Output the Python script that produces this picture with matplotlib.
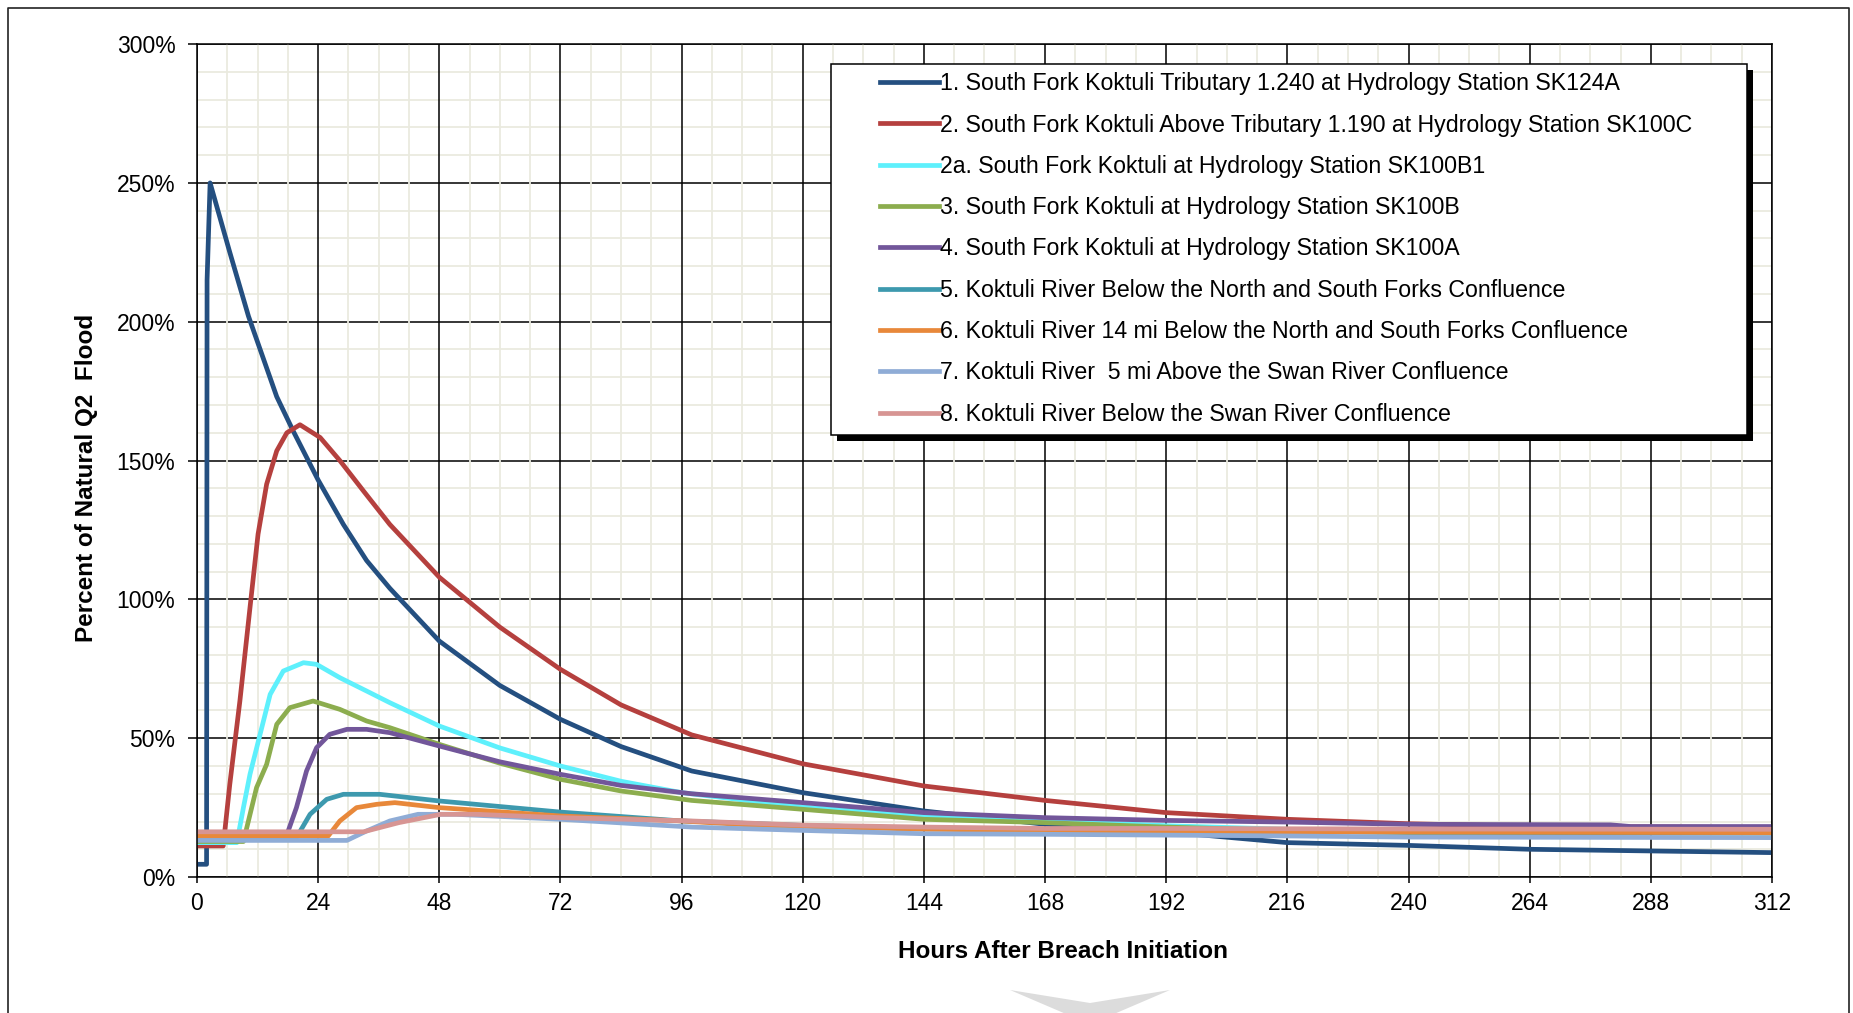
import matplotlib
matplotlib.use("Agg")
import matplotlib.pyplot as plt
from matplotlib.patches import Rectangle, Polygon
from matplotlib.lines import Line2D
from matplotlib.ticker import FuncFormatter, MultipleLocator

plt.rcParams["font.family"] = ["Liberation Sans", "DejaVu Sans"]

# hours after breach / percent of natural Q2 flood
h1 = [0, 1.9, 2.0, 2.6, 6.5, 10.2, 15.8, 19.1, 24, 29, 33.6, 38.2, 48, 60, 72, 84, 98, 120, 144, 168, 192, 216, 240, 264, 288, 312]
p1 = [4.6, 4.6, 215, 250, 225, 202, 173, 160.5, 143, 127, 114, 104, 85, 69, 56.8, 47, 38.2, 30.4, 23.8, 19, 16.3, 12.4, 11.4, 10, 9.4, 8.8]

h2 = [0, 5.2, 6.5, 8.5, 10.5, 12.1, 13.8, 15.8, 17.8, 20.4, 24.4, 28.3, 33, 38.2, 48, 60, 72, 84, 98, 120, 144, 168, 192, 216, 240, 264, 312]
p2 = [11.2, 11.2, 33.4, 63.4, 97, 123.5, 141.5, 153.5, 160, 162.9, 158.3, 150, 139, 127, 108, 90, 74.8, 62, 51.2, 40.8, 32.8, 27.6, 23.2, 20.8, 19.2, 18.3, 17.8]

h2a = [0, 7.9, 9.2, 10.5, 12.5, 14.5, 17.1, 21.1, 23.7, 28.3, 33.6, 38.2, 48, 60, 72, 84, 96, 120, 144, 168, 192, 216, 240, 312]
p2a = [12.4, 12.4, 25, 37, 51.4, 65.8, 74.2, 77.2, 76.6, 71.8, 67, 62.8, 54.4, 46.5, 40, 34.5, 30.4, 25.2, 22, 20.4, 18.5, 17.2, 16.3, 16]

h3 = [0, 9.2, 11.8, 13.8, 15.8, 18.4, 23, 28.3, 33.6, 38.2, 48, 60, 72, 84, 98, 120, 144, 168, 192, 216, 240, 312]
p3 = [12.8, 12.8, 32.2, 40.6, 55, 61, 63.4, 60.4, 56.2, 53.8, 47.8, 41, 35.2, 31, 27.6, 24.4, 20.8, 19.6, 18, 16.8, 16, 15.8]

h4 = [0, 17.8, 19.7, 21.7, 23.7, 26.3, 29.7, 33.6, 38.2, 48, 60, 72, 84, 98, 120, 144, 168, 192, 216, 240, 280, 284, 312]
p4 = [15.2, 15.2, 25, 38.2, 46.6, 51.4, 53.2, 53.2, 52, 47.2, 41.5, 37, 33, 30, 26.8, 23.2, 21.4, 20.4, 19.8, 19, 18.8, 18.2, 18.2]

h5 = [0, 19.7, 22.4, 25.7, 29, 36.2, 48, 72, 96, 120, 144, 168, 192, 240, 312]
p5 = [14.2, 14.2, 22.6, 28, 29.8, 29.8, 27.4, 23.4, 20.2, 18.6, 17.6, 17, 16.6, 16.2, 16]

h6 = [0, 26, 28.3, 31.6, 35.6, 39.2, 48, 72, 96, 110, 144, 168, 192, 216, 240, 312]
p6 = [14.8, 14.8, 20.2, 25, 26.2, 26.8, 25, 22, 20.2, 18.7, 17.2, 16.8, 16.6, 16.3, 16.2, 16]

h7 = [0, 29.7, 33.6, 38.2, 43.8, 51.3, 72, 98, 120, 144, 168, 192, 216, 240, 312]
p7 = [13.2, 13.2, 16.6, 20.2, 22.6, 22.6, 20.8, 18, 16.8, 15.6, 15.4, 15.1, 14.8, 14.4, 14.2]

h8 = [0, 33, 40, 48.3, 55.2, 72, 98, 120, 144, 168, 192, 216, 240, 312]
p8 = [16.3, 16.3, 19.6, 22.6, 22.6, 21.4, 20.2, 18.7, 18, 17.5, 17.5, 17.4, 17.3, 17.2]

labels = [
    "1. South Fork Koktuli Tributary 1.240 at Hydrology Station SK124A",
    "2. South Fork Koktuli Above Tributary 1.190 at Hydrology Station SK100C",
    "2a. South Fork Koktuli at Hydrology Station SK100B1",
    "3. South Fork Koktuli at Hydrology Station SK100B",
    "4. South Fork Koktuli at Hydrology Station SK100A",
    "5. Koktuli River Below the North and South Forks Confluence",
    "6. Koktuli River 14 mi Below the North and South Forks Confluence",
    "7. Koktuli River  5 mi Above the Swan River Confluence",
    "8. Koktuli River Below the Swan River Confluence",
]
colors = ["#244f80", "#b5403e", "#5ef0fc", "#8cad4e", "#72569a",
          "#3d99ae", "#e8883a", "#8facd6", "#d79593"]
series = [(h1, p1), (h2, p2), (h2a, p2a), (h3, p3), (h4, p4),
          (h5, p5), (h6, p6), (h7, p7), (h8, p8)]

fig = plt.figure(figsize=(18.53, 10.13), dpi=100)
ax = fig.add_axes([0.1063, 0.1342, 0.8500, 0.8223])

# grid drawn by hand so the layering matches the original
minor_c = "#eaeadf"
for v in range(0, 301, 10):
    if v % 50:
        ax.axhline(v, color=minor_c, lw=1.3, zorder=0.5)
for v in range(0, 301, 50):
    ax.axhline(v, color="black", lw=1.1, zorder=0.6)
for v in range(0, 313, 6):
    if v % 24:
        ax.axvline(v, color=minor_c, lw=1.3, zorder=0.7)
for v in range(0, 313, 24):
    ax.axvline(v, color="black", lw=1.1, zorder=0.8)

for (hx, py), c, lab in zip(series, colors, labels):
    ax.plot(hx, py, color=c, lw=3.4, label=lab, solid_joinstyle="round", zorder=2)

ax.set_xlim(0, 312)
ax.set_ylim(0, 300)
ax.xaxis.set_major_locator(MultipleLocator(24))
ax.yaxis.set_major_locator(MultipleLocator(50))
ax.yaxis.set_major_formatter(FuncFormatter(lambda v, _: f"{v:.0f}%"))
ax.tick_params(axis="y", direction="out", length=6.5, width=1.1, pad=9,
               labelsize=16.5, colors="black")
ax.tick_params(axis="x", direction="out", length=4.5, width=1.1, pad=6,
               labelsize=16.5, colors="black")
for s in ax.spines.values():
    s.set_linewidth(1.1)
    s.set_color("black")
    s.set_zorder(3)

fig.text(0.5737, 0.0612, "Hours After Breach Initiation", fontsize=17.5,
         fontweight="bold", ha="center", va="center")
fig.text(0.0465, 0.528, "Percent of Natural Q2  Flood", fontsize=17.5,
         fontweight="bold", ha="center", va="center", rotation=90)

# legend box with a solid black drop shadow
lx0, lx1, ly0, ly1 = 0.4025, 0.984, 0.5306, 0.9756
ax.add_patch(Rectangle((lx0 + 0.0038, ly0 - 0.0072), lx1 - lx0, ly1 - ly0,
                       transform=ax.transAxes, facecolor="black",
                       edgecolor="black", lw=0, zorder=4))
ax.add_patch(Rectangle((lx0, ly0), lx1 - lx0, ly1 - ly0,
                       transform=ax.transAxes, facecolor="white",
                       edgecolor="black", lw=1.1, zorder=4.5))
leg = ax.legend(loc="center left", bbox_to_anchor=(0.4337, 0.7540),
                frameon=False, fontsize=16.7, handlelength=2.55,
                handletextpad=0.05, labelspacing=0.79, borderpad=0,
                borderaxespad=0)
leg.set_zorder(6)

# outer chart border (bottom edge is cut off in the original)
fig.add_artist(Line2D([0.00448, 0.00448, 0.99784, 0.99784],
                      [0.0, 0.9918, 0.9918, 0.0],
                      transform=fig.transFigure, color="#222222", lw=1.2))

# grey chevron peeking in at the bottom
W, H = 1853.0, 1013.0
chev = [(1010, 990), (1090, 1003), (1170, 990), (1100, 1020), (1080, 1020)]
fig.add_artist(Polygon([(x / W, 1 - y / H) for x, y in chev], closed=True,
                       transform=fig.transFigure, facecolor="#dcdcdc",
                       edgecolor="none", clip_on=False))

fig.savefig("out.png", dpi=100)
